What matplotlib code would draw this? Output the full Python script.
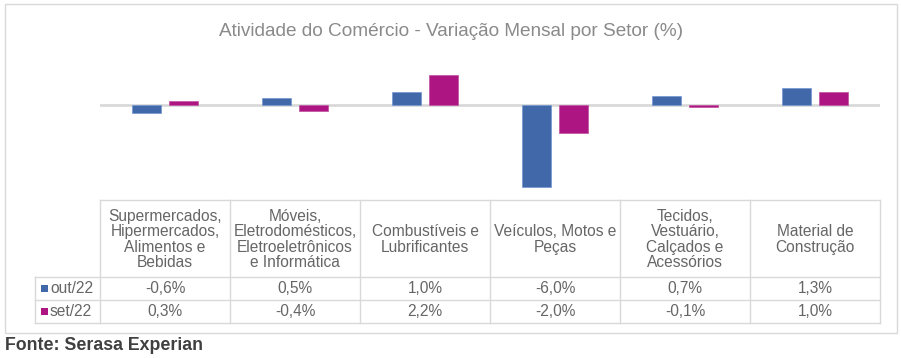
import matplotlib
matplotlib.use("Agg")
import matplotlib.pyplot as plt
from matplotlib.patches import Rectangle
import numpy as np

plt.rcParams['font.family'] = ['Liberation Sans', 'DejaVu Sans']

title = "Atividade do Comércio - Variação Mensal por Setor (%)"
categories = [
    "Supermercados,\nHipermercados,\nAlimentos e\nBebidas",
    "Móveis,\nEletrodomésticos,\nEletroeletrônicos\ne Informática",
    "Combustíveis e\nLubrificantes",
    "Veículos, Motos e\nPeças",
    "Tecidos,\nVestuário,\nCalçados e\nAcessórios",
    "Material de\nConstrução",
]
series_names = ["out/22", "set/22"]
out22 = [-0.6, 0.5, 1.0, -6.0, 0.7, 1.3]
set22 = [0.3, -0.4, 2.2, -2.0, -0.1, 1.0]
source = "Fonte: Serasa Experian"

colors = ["#4169a9", "#ad1682"]
text_col = "#666666"
grid_col = "#d9d9d9"

W, H = 901, 358
fig = plt.figure(figsize=(W / 100, H / 100), dpi=100)

# overlay axes in pixel coordinates
ov = fig.add_axes([0, 0, 1, 1])
ov.set_xlim(0, W)
ov.set_ylim(H, 0)
ov.axis("off")

# outer border
ov.add_patch(Rectangle((5, 4), 892, 329, fill=False, edgecolor=grid_col, lw=1))

# title
ov.text(451, 32, title, ha="center", va="center", fontsize=13.7, color="#8a8a8a")

# bar axes
x0, x1 = 100, 880
ytop, ybot = 48, 198
ax = fig.add_axes([x0 / W, 1 - ybot / H, (x1 - x0) / W, (ybot - ytop) / H])
n = len(categories)
pos = np.arange(n) + 0.5
bw = 0.223
off = 0.142
ax.axhline(0, color=grid_col, lw=2, zorder=1)
ax.bar(pos - off, out22, bw, color=colors[0], edgecolor="#7a9bd0", lw=0.6, zorder=2)
ax.bar(pos + off, set22, bw, color=colors[1], edgecolor="#c45aa5", lw=0.6, zorder=2)
ax.set_xlim(0, n)
ax.set_ylim(-6.8, 4.2)
ax.axis("off")

# table
colw = (x1 - x0) / n
hy0, hy1 = 200, 277
rows_y = [277, 300, 323]
lx0 = 35
lw_ = 1
ov.plot([x0, x1], [hy0, hy0], color=grid_col, lw=lw_)
for i in range(n + 1):
    xx = x0 + i * colw
    ov.plot([xx, xx], [hy0, rows_y[-1]], color=grid_col, lw=lw_)
for yy in rows_y:
    ov.plot([lx0, x1], [yy, yy], color=grid_col, lw=lw_)
ov.plot([lx0, lx0], [rows_y[0], rows_y[-1]], color=grid_col, lw=lw_)

for i, c in enumerate(categories):
    ov.text(x0 + (i + 0.5) * colw, (hy0 + hy1) / 2 + 1, c, ha="center", va="center",
            fontsize=11.2, color=text_col, linespacing=1.03)

def fmt(v):
    return f"{v:.1f}".replace(".", ",") + "%"

for r, (name, vals, col) in enumerate(zip(series_names, [out22, set22], colors)):
    yc = (rows_y[r] + rows_y[r + 1]) / 2
    ov.add_patch(Rectangle((41, yc - 3.5), 7, 7, color=col, lw=0))
    ov.text(50, yc, name, ha="left", va="center", fontsize=11.2, color=text_col)
    for i, v in enumerate(vals):
        ov.text(x0 + (i + 0.5) * colw, yc, fmt(v), ha="center", va="center",
                fontsize=11.2, color=text_col)

ov.text(5, 345, source, ha="left", va="center", fontsize=12.8, fontweight="bold", color="#404040")

fig.savefig("out.png", dpi=100)
